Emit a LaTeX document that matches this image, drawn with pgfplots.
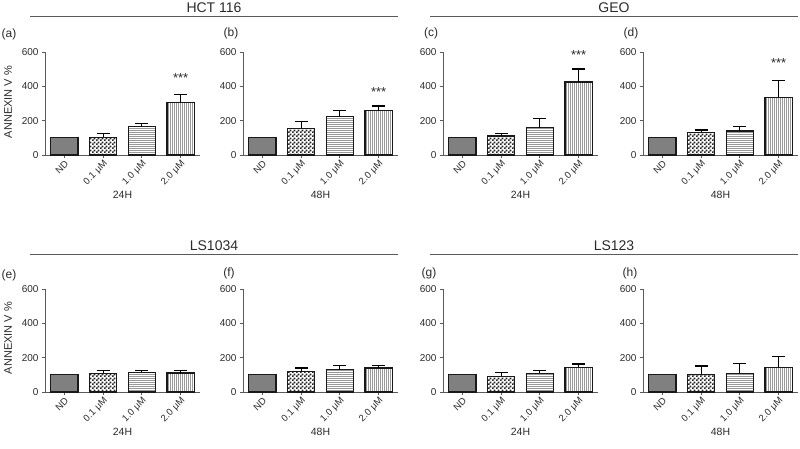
\documentclass[border=0pt]{standalone}
\usepackage{fontspec}
\setmainfont{Liberation Sans}
\usepackage{pgfplots}
\pgfplotsset{compat=1.18}
\usetikzlibrary{patterns,patterns.meta}

\definecolor{axisgray}{HTML}{5A5A5A}
\definecolor{txt}{HTML}{2A2A2A}

% checks of 2pt
\pgfdeclarepattern{
  name=finecheck,
  type=uncolored,
  bottom left={\pgfpointorigin},
  top right={\pgfqpoint{4pt}{4pt}},
  tile size={\pgfqpoint{4pt}{4pt}},
  code={
    \pgfpathrectangle{\pgfpointorigin}{\pgfqpoint{2pt}{2pt}}
    \pgfpathrectangle{\pgfqpoint{2pt}{2pt}}{\pgfqpoint{2pt}{2pt}}
    \pgfusepath{fill}
  }
}

\tikzset{stars/.style={font=\fontsize{13}{14}\selectfont, text=txt}}

\pgfplotsset{
  panel/.style={
    scale only axis, width=155pt, height=103pt, anchor=south west,
    axis lines=left, axis line style={-, axisgray, line width=1pt},
    xmin=-0.5, xmax=3.5, ymin=0, ymax=600,
    xtick={0,1,2,3}, xticklabels={ND, 0.1 μM, 1.0 μM, 2.0 μM},
    ytick={0,200,400,600},
    tick align=outside, major tick length=3pt,
    tick style={axisgray, line width=0.8pt},
    ticklabel style={font=\fontsize{10}{11}\selectfont, text=txt},
    /pgf/number format/assume math mode=true,
    xticklabel style={font=\fontsize{9.5}{11}\selectfont, rotate=45, anchor=north east, inner sep=1pt},
    xlabel style={font=\fontsize{10.5}{12}\selectfont, text=txt,
      at={(axis description cs:0.5,0)}, anchor=center, yshift=-40pt},
    clip=false,
    ybar, bar width=0.7, bar shift=0pt,
    error bars/y dir=plus, error bars/y explicit,
    error bars/error bar style={black, line width=1.2pt},
    error bars/error mark options={rotate=90, mark size=6.5pt, line width=1.2pt, black},
  },
  nd/.style={draw=black!90, line width=1.2pt, fill=black!50, error bars/y dir=none},
  c01/.style={draw=black!90, line width=1.2pt, pattern=finecheck, pattern color=black!85},
  c10/.style={draw=black!90, line width=1.2pt,
    pattern={Lines[distance=2pt, angle=0, line width=0.7pt]}, pattern color=black!40},
  c20/.style={draw=black!90, line width=1.2pt,
    pattern={Lines[distance=2pt, angle=90, line width=0.7pt]}, pattern color=black!40},
}

\begin{document}
\begin{tikzpicture}
\useasboundingbox (0,0) rectangle (800pt,448pt);

% group headings
\draw[axisgray, line width=0.8pt] (30pt,432pt) -- (398pt,432pt);
\draw[axisgray, line width=0.8pt] (430pt,432pt) -- (798pt,432pt);
\draw[axisgray, line width=0.8pt] (30pt,194pt) -- (398pt,194pt);
\draw[axisgray, line width=0.8pt] (430pt,194pt) -- (798pt,194pt);
\node[font=\fontsize{14}{16}\selectfont, text=txt] at (214pt,440pt) {HCT 116};
\node[font=\fontsize{14}{16}\selectfont, text=txt] at (614pt,440pt) {GEO};
\node[font=\fontsize{14}{16}\selectfont, text=txt] at (214pt,202pt) {LS1034};
\node[font=\fontsize{14}{16}\selectfont, text=txt] at (614pt,202pt) {LS123};

% panel letters and y labels
\begin{scope}[every node/.style={font=\fontsize{12}{13}\selectfont, text=txt}]
\node at (9pt,414pt) {(a)};
\node at (231pt,415pt) {(b)};
\node at (431pt,415pt) {(c)};
\node at (631pt,415pt) {(d)};
\node at (9pt,173pt) {(e)};
\node at (229pt,175pt) {(f)};
\node at (429pt,175pt) {(g)};
\node at (630pt,175pt) {(h)};
\end{scope}
\node[rotate=90, font=\fontsize{11}{12}\selectfont, text=txt] at (8pt,346pt) {ANNEXIN V \%};
\node[rotate=90, font=\fontsize{11}{12}\selectfont, text=txt] at (8pt,110pt) {ANNEXIN V \%};

% (a) HCT 116, 24H
\begin{axis}[panel, at={(45pt,293pt)}, xlabel={24H}]
\addplot[nd] coordinates {(0,100)};
\addplot[c01] coordinates {(1,103) +- (0,24)};
\addplot[c10] coordinates {(2,166) +- (0,19)};
\addplot[c20] coordinates {(3,308) +- (0,43)};
\node[stars] at (axis cs:3,450) {***};
\end{axis}

% (b) HCT 116, 48H
\begin{axis}[panel, at={(243pt,293pt)}, xlabel={48H}]
\addplot[nd] coordinates {(0,100)};
\addplot[c01] coordinates {(1,156) +- (0,39)};
\addplot[c10] coordinates {(2,224) +- (0,33)};
\addplot[c20] coordinates {(3,259) +- (0,27)};
\node[stars] at (axis cs:3,368) {***};
\end{axis}

% (c) GEO, 24H
\begin{axis}[panel, at={(443pt,293pt)}, xlabel={24H}]
\addplot[nd] coordinates {(0,100)};
\addplot[c01] coordinates {(1,111) +- (0,16)};
\addplot[c10] coordinates {(2,160) +- (0,52)};
\addplot[c20] coordinates {(3,425) +- (0,76)};
\node[stars] at (axis cs:3,582) {***};
\end{axis}

% (d) GEO, 48H
\begin{axis}[panel, at={(643pt,293pt)}, xlabel={48H}]
\addplot[nd] coordinates {(0,100)};
\addplot[c01] coordinates {(1,132) +- (0,14)};
\addplot[c10] coordinates {(2,140) +- (0,26)};
\addplot[c20] coordinates {(3,337) +- (0,96)};
\node[stars] at (axis cs:3,534) {***};
\end{axis}

% (e) LS1034, 24H
\begin{axis}[panel, at={(45pt,56pt)}, xlabel={24H}]
\addplot[nd] coordinates {(0,100)};
\addplot[c01] coordinates {(1,108) +- (0,15)};
\addplot[c10] coordinates {(2,114) +- (0,11)};
\addplot[c20] coordinates {(3,111) +- (0,12)};
\end{axis}

% (f) LS1034, 48H
\begin{axis}[panel, at={(243pt,56pt)}, xlabel={48H}]
\addplot[nd] coordinates {(0,100)};
\addplot[c01] coordinates {(1,119) +- (0,21)};
\addplot[c10] coordinates {(2,129) +- (0,27)};
\addplot[c20] coordinates {(3,140) +- (0,14)};
\end{axis}

% (g) LS123, 24H
\begin{axis}[panel, at={(443pt,56pt)}, xlabel={24H}]
\addplot[nd] coordinates {(0,100)};
\addplot[c01] coordinates {(1,92) +- (0,20)};
\addplot[c10] coordinates {(2,109) +- (0,16)};
\addplot[c20] coordinates {(3,143) +- (0,20)};
\end{axis}

% (h) LS123, 48H
\begin{axis}[panel, at={(643pt,56pt)}, xlabel={48H}]
\addplot[nd] coordinates {(0,100)};
\addplot[c01] coordinates {(1,104) +- (0,48)};
\addplot[c10] coordinates {(2,109) +- (0,57)};
\addplot[c20] coordinates {(3,143) +- (0,66)};
\end{axis}
\end{tikzpicture}
\end{document}
